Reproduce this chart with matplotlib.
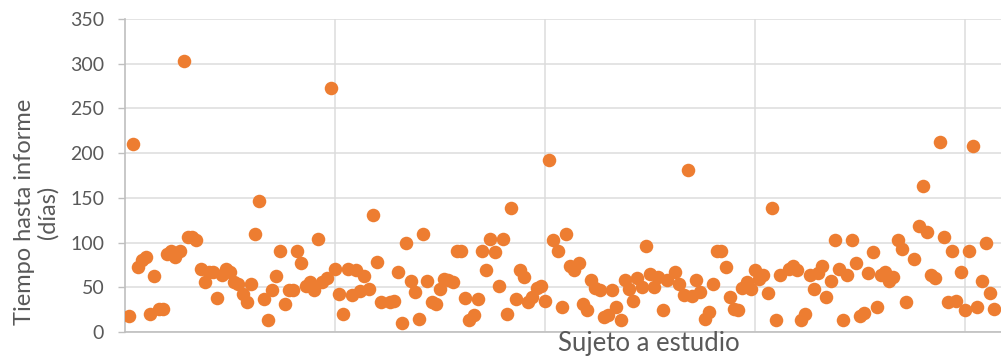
import matplotlib.pyplot as plt

# Subject number and days until the report
sujeto = [1, 2, 3, 4, 5, 6, 7, 8, 9, 10, 11, 12, 13, 14, 15, 16, 17, 18, 19, 20,
          21, 22, 23, 24, 25, 26, 27, 28, 29, 30, 31, 32, 33, 34, 35, 36, 37, 38, 39, 40,
          41, 42, 43, 44, 45, 46, 47, 48, 49, 50, 51, 52, 53, 54, 55, 56, 57, 58, 59, 60,
          61, 63, 64, 65, 66, 67, 68, 69, 70, 71, 72, 73, 74, 75, 76, 77, 78, 79, 80, 81,
          82, 83, 84, 85, 86, 87, 88, 89, 90, 91, 92, 93, 94, 95, 96, 97, 98, 99, 100, 101,
          102, 103, 104, 105, 106, 107, 108, 109, 110, 111, 112, 113, 114, 115, 116, 117, 118, 119, 120, 121,
          122, 123, 124, 125, 126, 127, 128, 129, 131, 132, 133, 134, 135, 136, 137, 138, 139, 140, 141, 142,
          143, 144, 145, 146, 147, 148, 149, 150, 151, 152, 153, 154, 155, 156, 158, 159, 160, 161, 162, 163,
          164, 165, 166, 167, 168, 169, 170, 171, 172, 173, 174, 175, 176, 177, 178, 179, 180, 181, 182, 183,
          184, 185, 186, 188, 189, 190, 191, 192, 193, 194, 195, 196, 197, 198, 199, 200, 201, 202, 203, 204,
          205, 206, 207]
dias = [18, 210, 73, 80, 84, 20, 63, 26, 26, 87, 91, 84, 91, 303, 106, 106, 103, 70, 56, 67,
        67, 38, 64, 70, 67, 56, 54, 43, 33, 54, 110, 147, 37, 13, 47, 63, 91, 31, 47, 47,
        91, 77, 51, 56, 47, 104, 56, 60, 273, 70, 42, 20, 70, 41, 69, 46, 63, 48, 131, 78,
        34, 34, 35, 67, 10, 100, 57, 45, 14, 110, 57, 33, 31, 48, 59, 58, 56, 91, 91, 38,
        13, 19, 37, 91, 69, 104, 90, 51, 104, 20, 139, 37, 69, 62, 33, 39, 49, 51, 35, 192,
        103, 91, 28, 110, 74, 69, 77, 31, 25, 58, 49, 47, 17, 19, 47, 28, 13, 58, 48, 35,
        60, 50, 96, 65, 50, 62, 25, 58, 67, 54, 41, 181, 40, 58, 45, 14, 22, 54, 91, 91,
        73, 39, 26, 25, 49, 56, 48, 69, 59, 64, 44, 139, 13, 64, 70, 74, 69, 13, 20, 64,
        48, 66, 74, 39, 57, 103, 71, 13, 64, 103, 77, 18, 21, 66, 90, 28, 64, 67, 57, 62,
        103, 93, 33, 82, 119, 163, 112, 64, 60, 212, 106, 34, 91, 35, 67, 25, 91, 208, 28, 57,
        99, 44, 26]

plt.rcParams['font.family'] = ['Lato', 'DejaVu Sans']

fig = plt.figure(figsize=(10.01, 3.58), dpi=100)
ax = fig.add_axes([0.1249, 0.0726, 0.8751, 0.8743])

ax.scatter(sujeto, dias, s=95, color='#ED7D31', linewidths=0, zorder=3)

ax.set_xlim(0, 208.6)
ax.set_ylim(0, 350)
ax.set_xticks([50, 100, 150, 200])
ax.set_yticks(range(0, 351, 50))
ax.grid(True, color='#dcdcdc', linewidth=1.1, zorder=0)

ax.tick_params(axis='x', length=0, labelbottom=False)
ax.tick_params(axis='y', length=5, width=1, color='#bfbfbf', pad=10,
               labelsize=14, labelcolor='#595959')

for side in ['top', 'right']:
    ax.spines[side].set_visible(False)
for side in ['left', 'bottom']:
    ax.spines[side].set_color('#bfbfbf')
    ax.spines[side].set_linewidth(1.2)

fig.text(0.036, 0.408, 'Tiempo hasta informe\n(días)', rotation=90,
         ha='center', va='center', multialignment='center',
         fontsize=17, color='#595959', linespacing=1.1)
fig.text(0.648, 0.04, 'Sujeto a estudio', ha='center', va='center',
         fontsize=18.5, color='#595959')

fig.savefig('out.png', dpi=100)
